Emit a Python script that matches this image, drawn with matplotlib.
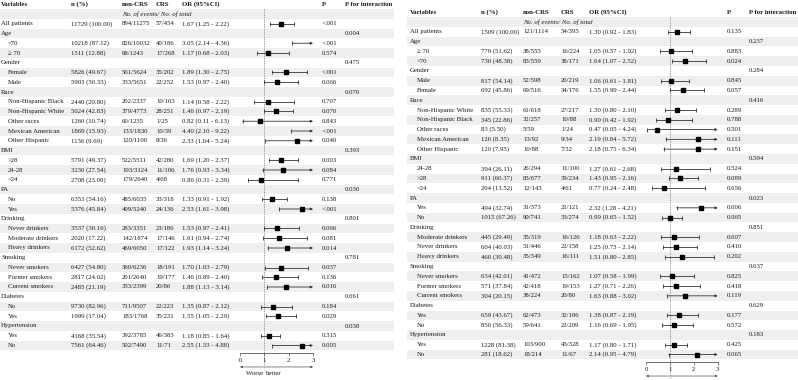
import matplotlib
matplotlib.use("Agg")
import matplotlib.pyplot as plt

plt.rcParams['font.family'] = ['Liberation Serif', 'DejaVu Serif']
plt.rcParams['font.size'] = 4.9

# ---------------------------------------------------------------------------
# Data: left panel
# ---------------------------------------------------------------------------
L_labels = ["All patients", "Age", "<70", "\u2265 70", "Gender", "Female", "Male",
            "Race", "Non-Hispanic Black", "Non-Hispanic White", "Other races",
            "Mexican American", "Other Hispanic", "BMI", ">28", "24-28", "<24",
            "PA", "No", "Yes", "Drinking", "Never drinkers", "Moderate drinkers",
            "Heavy drinkers", "Smoking", "Never smokers", "Former smokers",
            "Current smokers", "Diabetes", "No", "Yes", "Hypertension", "Yes", "No"]
L_indent = [0, 0, 1, 1, 0, 1, 1, 0, 1, 1, 1, 1, 1, 0, 1, 1, 1, 0, 1, 1, 0, 1, 1, 1,
            0, 1, 1, 1, 0, 1, 1, 0, 1, 1]
L_n = ["11729 (100.00)", "", "10218 (87.12)", "1511 (12.88)", "", "5826 (49.67)",
       "5903 (50.33)", "", "2440 (20.80)", "5024 (42.83)", "1260 (10.74)",
       "1869 (15.93)", "1136 (9.69)", "", "5791 (49.37)", "3230 (27.54)",
       "2708 (23.09)", "", "6353 (54.16)", "5376 (45.84)", "", "3537 (30.16)",
       "2020 (17.22)", "6172 (52.62)", "", "6427 (54.80)", "2817 (24.02)",
       "2485 (21.19)", "", "9730 (82.96)", "1999 (17.04)", "", "4168 (35.54)",
       "7561 (64.46)"]
L_noncrs = ["894/11275", "", "826/10032", "68/1243", "", "561/5624", "333/5651", "",
            "202/2337", "379/4773", "60/1235", "133/1830", "120/1100", "",
            "522/5511", "193/3124", "179/2640", "", "485/6035", "409/5240", "",
            "283/3351", "142/1874", "469/6050", "", "360/6236", "201/2640",
            "333/2399", "", "711/9507", "183/1768", "", "392/3785", "502/7490"]
L_crs = ["57/454", "", "40/186", "17/268", "", "35/202", "22/252", "", "10/103",
         "28/251", "1/25", "10/39", "8/36", "", "42/280", "11/106", "4/68", "",
         "33/318", "24/136", "", "23/186", "17/146", "17/122", "", "18/191",
         "19/177", "20/86", "", "22/223", "35/231", "", "46/383", "11/71"]
L_or = [1.67, None, 3.05, 1.17, None, 1.89, 1.53, None, 1.14, 1.46, 0.82, 4.40, 2.33,
        None, 1.69, 1.76, 0.86, None, 1.33, 2.53, None, 1.53, 1.61, 1.93, None,
        1.70, 1.46, 1.88, None, 1.35, 1.55, None, 1.18, 2.55]
L_lo = [1.25, None, 2.14, 0.68, None, 1.30, 0.97, None, 0.58, 0.97, 0.11, 2.10, 1.04,
        None, 1.20, 0.93, 0.31, None, 0.91, 1.61, None, 0.97, 0.94, 1.14, None,
        1.03, 0.89, 1.13, None, 0.87, 1.05, None, 0.85, 1.33]
L_hi = [2.22, None, 4.36, 2.03, None, 2.75, 2.40, None, 2.22, 2.19, 6.13, 9.22, 5.24,
        None, 2.37, 3.34, 2.39, None, 1.92, 3.98, None, 2.41, 2.74, 3.24, None,
        2.79, 2.40, 3.14, None, 2.12, 2.29, None, 1.64, 4.88]
L_p = ["<.001", "", "<.001", "0.574", "", "<.001", "0.066", "", "0.707", "0.070",
       "0.843", "<.001", "0.040", "", "0.003", "0.084", "0.771", "", "0.138",
       "<.001", "", "0.066", "0.081", "0.014", "", "0.037", "0.136", "0.016", "",
       "0.184", "0.029", "", "0.315", "0.005"]
L_pint = ["", "0.004", "", "", "0.475", "", "", "0.070", "", "", "", "", "", "0.393",
          "", "", "", "0.030", "", "", "0.801", "", "", "", "0.781", "", "", "",
          "0.661", "", "", "0.038", "", ""]

# ---------------------------------------------------------------------------
# Data: right panel
# ---------------------------------------------------------------------------
R_labels = ["All patients", "Age", "\u2265 70", "<70", "Gender", "Male", "Female",
            "Race", "Non-Hispanic White", "Non-Hispanic Black", "Other races",
            "Mexican American", "Other Hispanic", "BMI", "24-28", ">28", "<24",
            "PA", "Yes", "No", "Drinking", "Moderate drinkers", "Never drinkers",
            "Heavy drinkers", "Smoking", "Never smokers", "Former smokers",
            "Current smokers", "Diabetes", "Yes", "No", "Hypertension", "Yes", "No"]
R_indent = L_indent
R_n = ["1509 (100.00)", "", "779 (51.62)", "730 (48.38)", "", "817 (54.14)",
       "692 (45.86)", "", "835 (55.33)", "345 (22.86)", "83 (5.50)", "126 (8.35)",
       "120 (7.95)", "", "394 (26.11)", "911 (60.37)", "204 (13.52)", "",
       "494 (32.74)", "1015 (67.26)", "", "445 (29.49)", "604 (40.03)",
       "460 (30.48)", "", "634 (42.01)", "571 (37.84)", "304 (20.15)", "",
       "659 (43.67)", "850 (56.33)", "", "1228 (81.38)", "281 (18.62)"]
R_noncrs = ["121/1114", "", "38/555", "83/559", "", "52/598", "69/516", "", "61/618",
            "32/257", "5/59", "13/92", "10/88", "", "26/294", "83/677", "12/143", "",
            "31/373", "90/741", "", "35/319", "51/446", "35/349", "", "41/472",
            "42/418", "38/224", "", "62/473", "59/641", "", "103/900", "18/214"]
R_crs = ["54/395", "", "16/224", "38/171", "", "20/219", "34/176", "", "27/217",
         "10/88", "1/24", "9/34", "7/32", "", "11/100", "39/234", "4/61", "",
         "21/121", "33/274", "", "16/126", "22/158", "16/111", "", "15/162",
         "19/153", "20/80", "", "32/186", "22/209", "", "43/328", "11/67"]
R_or = [1.30, None, 1.05, 1.64, None, 1.06, 1.55, None, 1.30, 0.90, 0.47, 2.19, 2.18,
        None, 1.27, 1.43, 0.77, None, 2.32, 0.99, None, 1.18, 1.25, 1.51, None,
        1.07, 1.27, 1.63, None, 1.38, 1.16, None, 1.17, 2.14]
R_lo = [0.92, None, 0.57, 1.07, None, 0.61, 0.99, None, 0.80, 0.42, 0.05, 0.84, 0.75,
        None, 0.61, 0.95, 0.24, None, 1.28, 0.65, None, 0.63, 0.73, 0.80, None,
        0.58, 0.71, 0.88, None, 0.87, 0.69, None, 0.80, 0.95]
R_hi = [1.83, None, 1.92, 2.52, None, 1.81, 2.44, None, 2.10, 1.92, 4.24, 5.72, 6.34,
        None, 2.68, 2.16, 2.48, None, 4.21, 1.52, None, 2.22, 2.14, 2.85, None,
        1.99, 2.26, 3.02, None, 2.19, 1.95, None, 1.71, 4.79]
R_p = ["0.135", "", "0.883", "0.024", "", "0.845", "0.057", "", "0.289", "0.788",
       "0.501", "0.111", "0.151", "", "0.524", "0.089", "0.656", "", "0.006",
       "0.965", "", "0.607", "0.410", "0.202", "", "0.825", "0.418", "0.119", "",
       "0.177", "0.572", "", "0.425", "0.065"]
R_pint = ["", "0.237", "", "", "0.284", "", "", "0.416", "", "", "", "", "", "0.594",
          "", "", "", "0.023", "", "", "0.851", "", "", "", "0.637", "", "", "",
          "0.629", "", "", "0.183", "", ""]

HEADERS = ["Variables", "n (%)", "non-CRS", "CRS", "OR (95%CI)", "P", "P for interaction"]
TICKS = [0, 1, 2, 3]

W, H = 798, 380
TXT = '#1a1a1a'
LINE = '#333333'
SHADE = '#efefef'


def draw_panel(fig, x_off, y0, dy, cols, shade_x, forest_x,
               labels, indent, n, noncrs, crs, ors, lo, hi, p, pint, footer=True):
    # table axes: local pixel x, row-index y
    ax = fig.add_axes([x_off / W, 0, 400 / W, 1])
    ax.set_xlim(0, 400)
    ax.set_ylim((H - y0) / dy, -y0 / dy)
    ax.axis('off')

    nrows = len(labels) + 1  # + subheader row
    for i in range(0, nrows, 2):
        ax.barh(i, shade_x[1] - shade_x[0], left=shade_x[0], height=1.0,
                color=SHADE, linewidth=0, zorder=0)

    # header row
    xs = [cols['var'], cols['n'], cols['noncrs'], cols['crs'], cols['or'],
          cols['p'], cols['pint']]
    for x, h in zip(xs, HEADERS):
        ax.text(x, -1, h, ha='left', va='center', fontweight='bold', color=TXT)
    ax.text(cols['noncrs'], 0, "No. of events/ No. of total", ha='left',
            va='center', style='italic', color=TXT)

    for k, lab in enumerate(labels):
        y = k + 1
        ax.text(cols['var'] + 7 * indent[k], y, lab, ha='left', va='center', color=TXT)
        ax.text(cols['n'], y, n[k], ha='left', va='center', color=TXT)
        ax.text(cols['noncrs'], y, noncrs[k], ha='left', va='center', color=TXT)
        ax.text(cols['crs'], y, crs[k], ha='left', va='center', color=TXT)
        if ors[k] is not None:
            ax.text(cols['or'], y, f"{ors[k]:.2f} ({lo[k]:.2f} - {hi[k]:.2f})",
                    ha='left', va='center', color=TXT)
        ax.text(cols['p'], y, p[k], ha='left', va='center', color=TXT)
        ax.text(cols['pint'], y, pint[k], ha='left', va='center', color=TXT)

    # forest axes: x 0..3, rows share the table scale
    top_row, bot_row = -0.51, 34.77
    top_px = y0 + dy * top_row
    bot_px = y0 + dy * bot_row
    fx = fig.add_axes([(x_off + forest_x[0]) / W, 1 - bot_px / H,
                       (forest_x[1] - forest_x[0]) / W, (bot_px - top_px) / H])
    fx.patch.set_alpha(0)
    fx.set_xlim(0, 3)
    fx.set_ylim(bot_row, top_row)
    for s in ['top', 'left', 'right']:
        fx.spines[s].set_visible(False)
    fx.spines['bottom'].set_linewidth(0.6)
    fx.spines['bottom'].set_color('#555555')
    fx.set_yticks([])
    fx.set_xticks(TICKS)
    fx.tick_params(axis='x', length=2, width=0.5, pad=1.5, labelsize=4.9,
                   colors='#555555', labelcolor=TXT)

    fx.plot([1, 1], [top_row, 36.4], ls=(0, (2, 1.5)), lw=0.5, color='#777777',
            clip_on=False, zorder=1)

    for k in range(len(labels)):
        if ors[k] is None:
            continue
        y = k + 1
        fx.plot([lo[k]], [y], marker='|', ms=3, mew=0.6, color=LINE, clip_on=False)
        if hi[k] <= 3:
            fx.plot([lo[k], hi[k]], [y, y], lw=0.6, color=LINE, clip_on=False)
            fx.plot([hi[k]], [y], marker='|', ms=3, mew=0.6, color=LINE, clip_on=False)
        else:
            fx.annotate('', xy=(3, y), xytext=(lo[k], y), annotation_clip=False,
                        arrowprops=dict(arrowstyle='-|>', lw=0.6, color=LINE,
                                        shrinkA=0, shrinkB=0, mutation_scale=3.5))
        if ors[k] <= 3:
            fx.plot([ors[k]], [y], marker='s', ms=2.3, color='black',
                    clip_on=False, zorder=3)

    # direction arrows and labels under the axis
    ya = 36.2
    fx.annotate('', xy=(0, ya), xytext=(0.97, ya), annotation_clip=False,
                arrowprops=dict(arrowstyle='-|>', lw=0.5, color='#555555',
                                shrinkA=0, shrinkB=0, mutation_scale=3))
    fx.annotate('', xy=(3, ya), xytext=(1.03, ya), annotation_clip=False,
                arrowprops=dict(arrowstyle='-|>', lw=0.5, color='#555555',
                                shrinkA=0, shrinkB=0, mutation_scale=3))
    if footer:
        fx.text(0.95, 36.85, "Worse", ha='right', va='center', color=TXT, clip_on=False)
        fx.text(1.05, 36.85, "better", ha='left', va='center', color=TXT, clip_on=False)


fig = plt.figure(figsize=(W / 100, H / 100), dpi=100)

draw_panel(fig, 0, 14.0, 9.75,
           {'var': 1, 'n': 71, 'noncrs': 122, 'crs': 156, 'or': 182, 'p': 322, 'pint': 345},
           (0, 394), (240, 313),
           L_labels, L_indent, L_n, L_noncrs, L_crs, L_or, L_lo, L_hi, L_p, L_pint)

# the right panel sits lower, so its "Worse / better" line falls below the frame
draw_panel(fig, 400, 22.0, 9.78,
           {'var': 10, 'n': 81, 'noncrs': 123, 'crs': 161, 'or': 189, 'p': 327, 'pint': 349},
           (7, 398), (246, 317.7),
           R_labels, R_indent, R_n, R_noncrs, R_crs, R_or, R_lo, R_hi, R_p, R_pint,
           footer=False)

fig.savefig('out.png', dpi=100)
